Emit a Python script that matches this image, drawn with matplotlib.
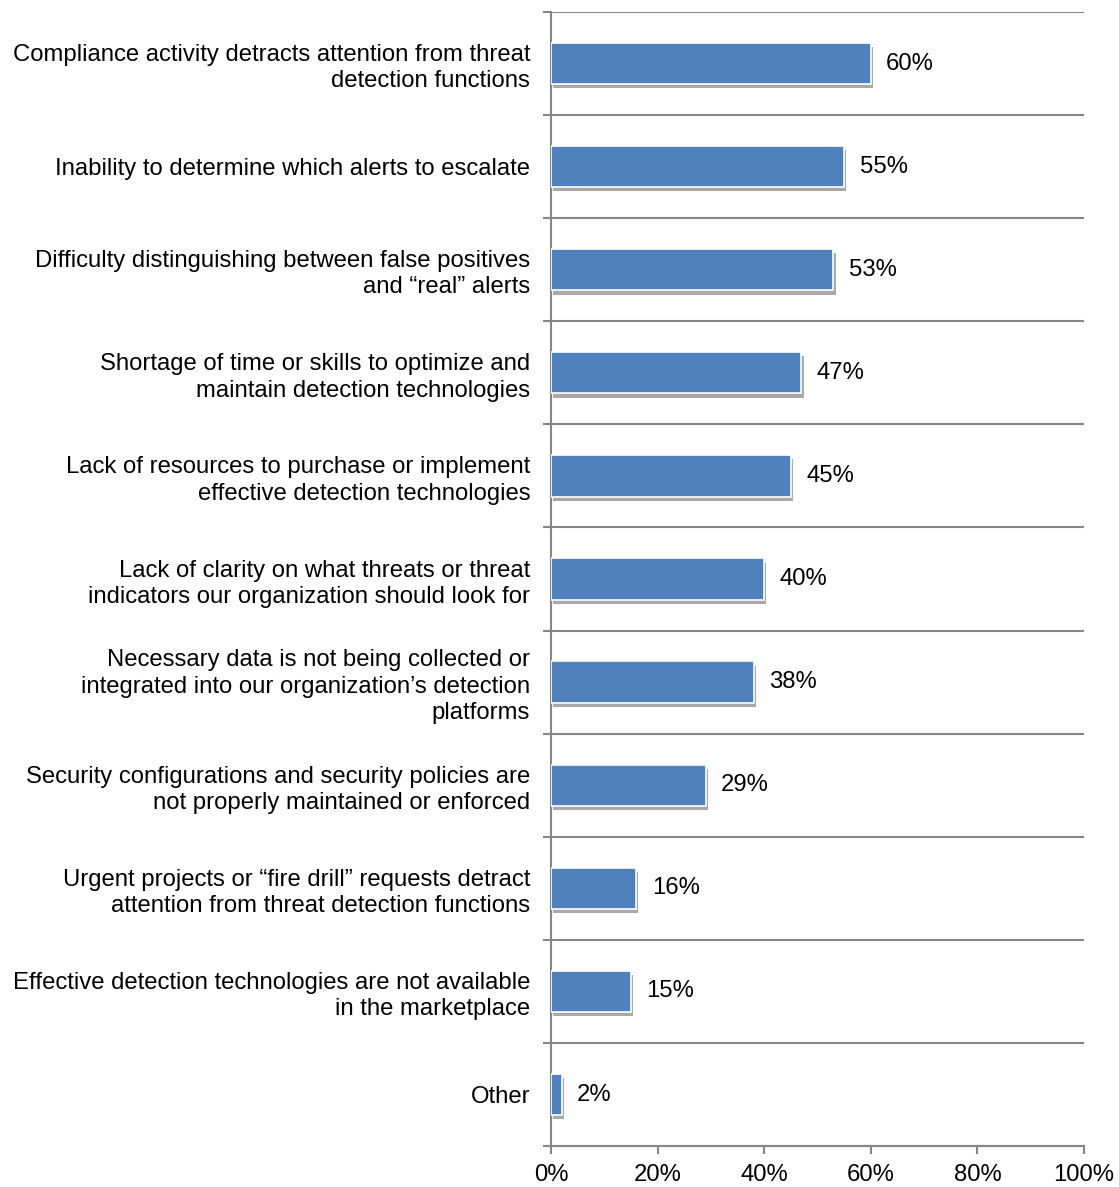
import matplotlib.pyplot as plt
import matplotlib.patheffects as pe
import numpy as np

plt.rcParams['font.family'] = ['Liberation Sans', 'DejaVu Sans']

categorias = [
    "Compliance activity detracts attention from threat\ndetection functions",
    "Inability to determine which alerts to escalate",
    "Difficulty distinguishing between false positives\nand \u201creal\u201d alerts",
    "Shortage of time or skills to optimize and\nmaintain detection technologies",
    "Lack of resources to purchase or implement\neffective detection technologies",
    "Lack of clarity on what threats or threat\nindicators our organization should look for",
    "Necessary data is not being collected or\nintegrated into our organization\u2019s detection\nplatforms",
    "Security configurations and security policies are\nnot properly maintained or enforced",
    "Urgent projects or \u201cfire drill\u201d requests detract\nattention from threat detection functions",
    "Effective detection technologies are not available\nin the marketplace",
    "Other",
]
valores = [60, 55, 53, 47, 45, 40, 38, 29, 16, 15, 2]
ticks_x = [0, 20, 40, 60, 80, 100]

gris = '#868686'
fs = 17.2
fig = plt.figure(figsize=(11.19, 11.87), dpi=100)
ax = fig.add_axes([0.4924, 0.0345, 0.9687 - 0.4924, 0.9899 - 0.0345])

y = np.arange(len(categorias))
barras = ax.barh(y, valores, height=0.4, color='#4F81BD', edgecolor='white',
                 linewidth=1.2, zorder=3)
for b in barras:
    b.set_path_effects([pe.SimplePatchShadow(offset=(1.5, -3), shadow_rgbFace='#555555', alpha=0.5),
                        pe.Normal()])

for yi, v in zip(y, valores):
    ax.text(v + 2.9, yi, f"{v}%", va='center', ha='left', fontsize=fs)

ax.set_xlim(0, 100)
ax.set_ylim(len(categorias) - 0.5, -0.5)
ax.set_xticks(ticks_x)
ax.set_xticklabels([f"{t}%" for t in ticks_x], fontsize=fs)
ax.set_yticks(y)
ax.set_yticklabels(categorias, fontsize=fs, linespacing=1.25)
ax.set_yticks(np.arange(-0.5, len(categorias), 1), minor=True)

ax.tick_params(axis='y', which='major', length=0, pad=15)
ax.tick_params(axis='y', which='minor', length=6, color=gris, width=1.5)
ax.tick_params(axis='x', length=6, color=gris, width=1.5, pad=7)
ax.grid(axis='y', which='minor', color=gris, linewidth=1.5, zorder=0)

for s in ['top', 'right']:
    ax.spines[s].set_visible(False)
for s in ['left', 'bottom']:
    ax.spines[s].set_color(gris)
    ax.spines[s].set_linewidth(1.5)

fig.savefig('out.png', dpi=100)
